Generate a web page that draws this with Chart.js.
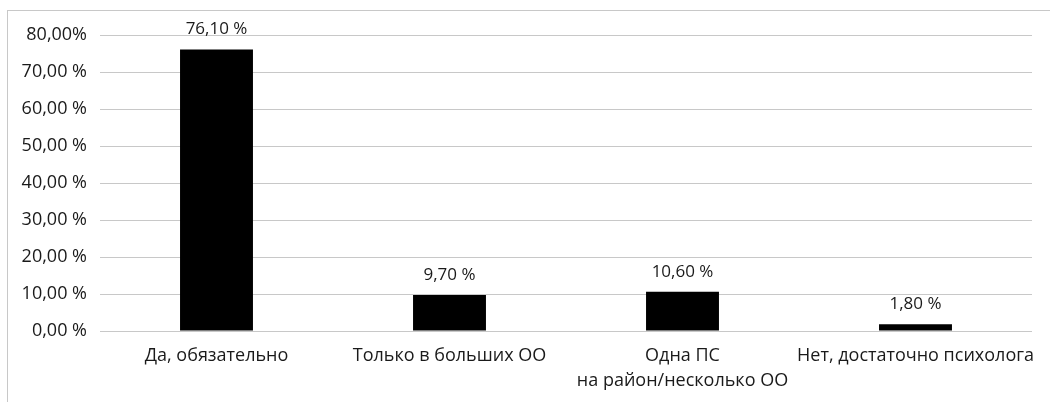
<!DOCTYPE html>
<html>
<head>
<meta charset="utf-8">
<script src="https://cdn.jsdelivr.net/npm/chart.js@4.4.0/dist/chart.umd.min.js"></script>
<style>
  html, body { margin: 0; padding: 0; background: #fff; }
  #frame { position: absolute; left: 7px; top: 10px; width: 1100px; height: 500px; border: 1px solid #c8c8c8; }
  #wrap { position: absolute; left: 0; top: 0; width: 1050px; height: 402px; }
</style>
</head>
<body>
<div id="frame"></div>
<div id="wrap"><canvas id="chart"></canvas></div>
<script>
'use strict';

/* ---- Data ---- */
const categories = [
  'Да, обязательно',
  'Только в больших ОО',
  ['Одна ПС', 'на район/несколько ОО'],
  'Нет, достаточно психолога'
];
const values = [76.1, 9.7, 10.6, 1.8];
const valueLabels = ['76,10 %', '9,70 %', '10,60 %', '1,80 %'];
const tickLabels = ['0,00 %', '10,00 %', '20,00 %', '30,00 %', '40,00 %', '50,00 %', '60,00 %', '70,00 %', '80,00%'];

const FONT = '"Open Sans", sans-serif';
const TEXT = '#1a1a1a';

/* ---- Value labels above bars ---- */
const barLabels = {
  id: 'barLabels',
  afterDatasetsDraw(chart) {
    const ctx = chart.ctx;
    const meta = chart.getDatasetMeta(0);
    ctx.save();
    ctx.font = '17px ' + FONT;
    ctx.fillStyle = TEXT;
    ctx.textAlign = 'center';
    ctx.textBaseline = 'middle';
    meta.data.forEach((bar, i) => {
      ctx.fillText(valueLabels[i], bar.x, bar.y - 20);
    });
    ctx.restore();
  }
};

new Chart(document.getElementById('chart'), {
  type: 'bar',
  data: {
    labels: categories,
    datasets: [{
      data: values,
      backgroundColor: '#000',
      borderWidth: 0,
      categoryPercentage: 1,
      barPercentage: 0.313
    }]
  },
  options: {
    responsive: true,
    maintainAspectRatio: false,
    animation: false,
    layout: { padding: { top: 35, right: 18, left: 0, bottom: 0 } },
    plugins: {
      legend: { display: false },
      tooltip: { enabled: false }
    },
    scales: {
      x: {
        grid: { display: false },
        border: { display: false },
        ticks: {
          color: TEXT,
          font: { family: FONT, size: 18, lineHeight: 1.4 },
          padding: 4,
          maxRotation: 0,
          autoSkip: false
        },
        afterFit(scale) { scale.height = 71; }
      },
      y: {
        min: 0,
        max: 80,
        border: { display: false },
        grid: { color: '#c8c8c8', lineWidth: 1, drawTicks: false },
        ticks: {
          stepSize: 10,
          color: TEXT,
          font: { family: FONT, size: 18 },
          padding: 13,
          callback: (v) => tickLabels[Math.round(v / 10)]
        },
        afterFit(scale) { scale.width = 100; }
      }
    }
  },
  plugins: [barLabels]
});
</script>
</body>
</html>
